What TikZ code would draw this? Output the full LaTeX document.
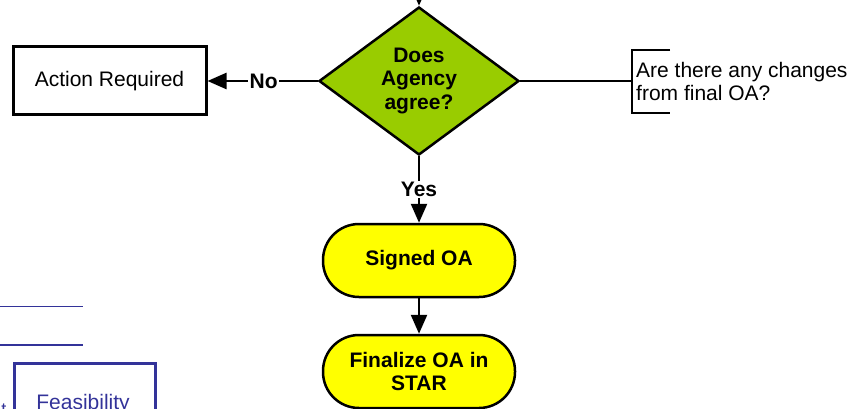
\documentclass[tikz,border=0pt]{standalone}
\usepackage{fontspec}
\setmainfont{Liberation Sans}
\usetikzlibrary{shapes.geometric,arrows.meta}
\definecolor{decgreen}{HTML}{99CC00}
\definecolor{termyellow}{HTML}{FFFF00}
\definecolor{lineblue}{HTML}{333399}
\begin{document}
\begin{tikzpicture}[x=1pt,y=-1pt,
  txt/.style={font=\fontsize{21}{23}\selectfont},
  btxt/.style={font=\fontsize{21}{23.5}\selectfont\bfseries},
  conn/.style={line width=2.5pt,-{Triangle[length=19pt,width=16pt]}},
  plain/.style={line width=2.5pt},
  decbox/.style={diamond,draw,line width=2.5pt,fill=decgreen,minimum width=200pt,minimum height=148pt,aspect=1.35,inner sep=0pt,align=center,btxt},
  termbox/.style={rectangle,draw,line width=2.5pt,fill=termyellow,minimum width=192pt,minimum height=73pt,rounded corners=36pt,inner sep=0pt,align=center,btxt},
  actbox/.style={rectangle,draw,line width=3pt,minimum width=193pt,minimum height=68pt,inner sep=0pt,txt},
  lbl/.style={fill=white,inner sep=1.5pt,btxt}
]
\useasboundingbox (0,0) rectangle (856,409);
\clip (0,0) rectangle (856,409);

\node[decbox] (dec) at (419,81) {Does\\Agency\\agree?};
\node[actbox] (act) at (109.5,81) {Action Required};
\node[termbox] (signed) at (419,260.5) {Signed OA};
\node[termbox] (final) at (419,371.5) {Finalize OA in\\STAR};
\coordinate (top) at (419,-40);
\coordinate (br) at (632,81);
\node[txt,anchor=west,align=left,inner sep=0pt] (q) at (636,81) {Are there any changes\\from final OA?};

% incoming arrow from above
\draw[conn] (top) -- (dec.north);
% No branch
\draw[conn] (dec.west) -- node[lbl,pos=0.49] {No} (act.east);
% Yes branch
\draw[conn] (dec.south) -- node[lbl] {Yes} (signed.north);
\draw[conn] (signed.south) -- (final.north);
% annotation
\draw[plain] (dec.east) -- (br);
\draw[line width=2.5pt] (670,50) -- (632,50) -- (632,113) -- (670,113);

% bottom-left fragment
\draw[lineblue,line width=1.5pt] (0,306.5) -- (83,306.5);
\draw[lineblue,line width=1.5pt] (0,345) -- (83,345);
\draw[lineblue,line width=3pt] (14,430) -- (14,363) -- (155,363) -- (155,430);
\node[lineblue,txt,anchor=base,inner sep=0pt] (feas) at (83,409.5) {Feasibility};
\node[lineblue,font=\fontsize{18}{20}\selectfont,anchor=base,inner sep=0pt] (tfrag) at (4,415) {t};
\end{tikzpicture}
\end{document}
